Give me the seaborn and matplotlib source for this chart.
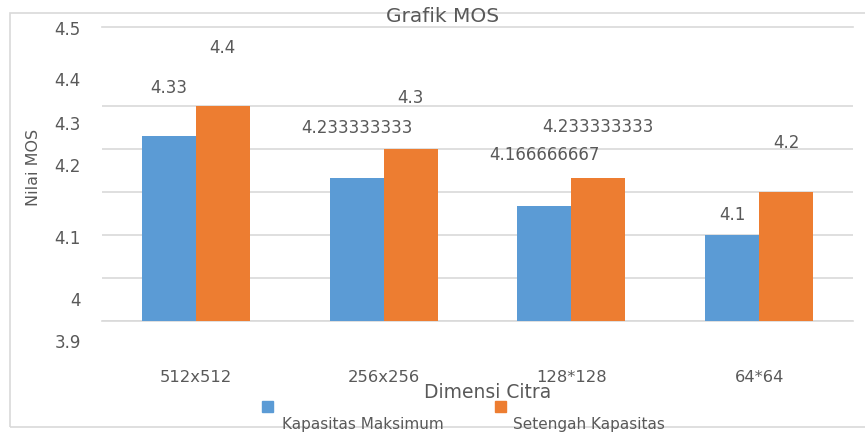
import pandas as pd
import matplotlib
matplotlib.use("Agg")
import matplotlib.pyplot as plt
import seaborn as sns
from matplotlib.patches import Rectangle

dimensi = ["512x512", "256x256", "128*128", "64*64"]
kapasitas_maks = [4.33, 4.233333333, 4.166666667, 4.1]
setengah_kap = [4.4, 4.3, 4.233333333, 4.2]
seri = ["Kapasitas Maksimum", "Setengah Kapasitas"]
colors = ["#5B9BD5", "#ED7D31"]

# the y labels in the original sit off the gridlines, keep them where they were drawn
ytick_text = ["4.5", "4.4", "4.3", "4.2", "4.1", "4", "3.9"]
ytick_at = [4.576, 4.458, 4.356, 4.258, 4.091, 3.947, 3.849]

# label offset above each bar (pixels), as placed in the source chart
label_pad = [[48, 50, 51, 20], [58, 51, 51, 49]]

df = pd.DataFrame({
    "dimensi": dimensi * 2,
    "mos": kapasitas_maks + setengah_kap,
    "seri": [seri[0]] * 4 + [seri[1]] * 4,
})

sns.set_style("white")
plt.rcParams["font.family"] = ["DejaVu Sans"]
txt = "#595959"
grid = "#D9D9D9"

W, H = 865, 434
fig = plt.figure(figsize=(8.65, 4.34), dpi=100)
ax = fig.add_axes([102 / W, 1 - 321 / H, (853 - 102) / W, (321 - 27) / H])

sns.barplot(data=df, x="dimensi", y="mos", hue="seri", order=dimensi,
            hue_order=seri, palette=colors, width=0.574, gap=0,
            saturation=1, legend=False, ax=ax, zorder=3, linewidth=0)

ax.set_ylim(3.9, 3.9 + 294 / 430)
ax.set_xlim(-0.5, 3.5)
ax.set_yticks([3.9, 4.0, 4.1, 4.2, 4.3, 4.4])
ax.set_yticklabels([])
ax.tick_params(axis="y", length=0)
ax.grid(True, axis="y", color=grid, linewidth=1.2, zorder=0)
for s in ["left", "right"]:
    ax.spines[s].set_visible(False)
for s in ["top", "bottom"]:
    ax.spines[s].set_color(grid)
    ax.spines[s].set_linewidth(1.2)

ax.tick_params(axis="x", length=0, pad=35, labelsize=11.8, labelcolor=txt)
ax.set_xlabel("")
ax.set_ylabel("")

for t, y in zip(ytick_text, ytick_at):
    ax.text(-0.028, y, t, transform=ax.get_yaxis_transform(), ha="right",
            va="center", fontsize=12, color=txt, clip_on=False)

for cont, pads in zip(ax.containers, label_pad):
    for bar, p in zip(cont, pads):
        h = bar.get_height()
        ax.annotate(f"{h:.10g}", (bar.get_x() + bar.get_width() / 2, h),
                    xytext=(0, p), textcoords="offset pixels", ha="center",
                    va="center", fontsize=12, color=txt, annotation_clip=False)

# outer chart frame (right edge cut off in the source)
fig.patches.append(Rectangle((10 / W, 1 - 427 / H), 1.2, (427 - 13) / H,
                             transform=fig.transFigure, fill=False,
                             edgecolor=grid, linewidth=1.2))

fig.text(443 / W, 1 - 16 / H, "Grafik MOS", ha="center", va="center",
         fontsize=14.5, color=txt)
fig.text(33 / W, 1 - 167 / H, "Nilai MOS", ha="center", va="center",
         rotation=90, fontsize=11.5, color=txt)
fig.text(488 / W, 1 - 393 / H, "Dimensi Citra", ha="center", va="center",
         fontsize=13.5, color=txt)

# legend: little squares above, names below
for col, name, sx, tx in zip(colors, seri, [262, 495], [282, 513]):
    fig.patches.append(Rectangle((sx / W, 1 - 412 / H), 11 / W, 11 / H,
                                 transform=fig.transFigure, color=col))
    fig.text(tx / W, 1 - 425 / H, name, ha="left", va="center",
             fontsize=11, color=txt)

fig.savefig("out.png", dpi=100)
